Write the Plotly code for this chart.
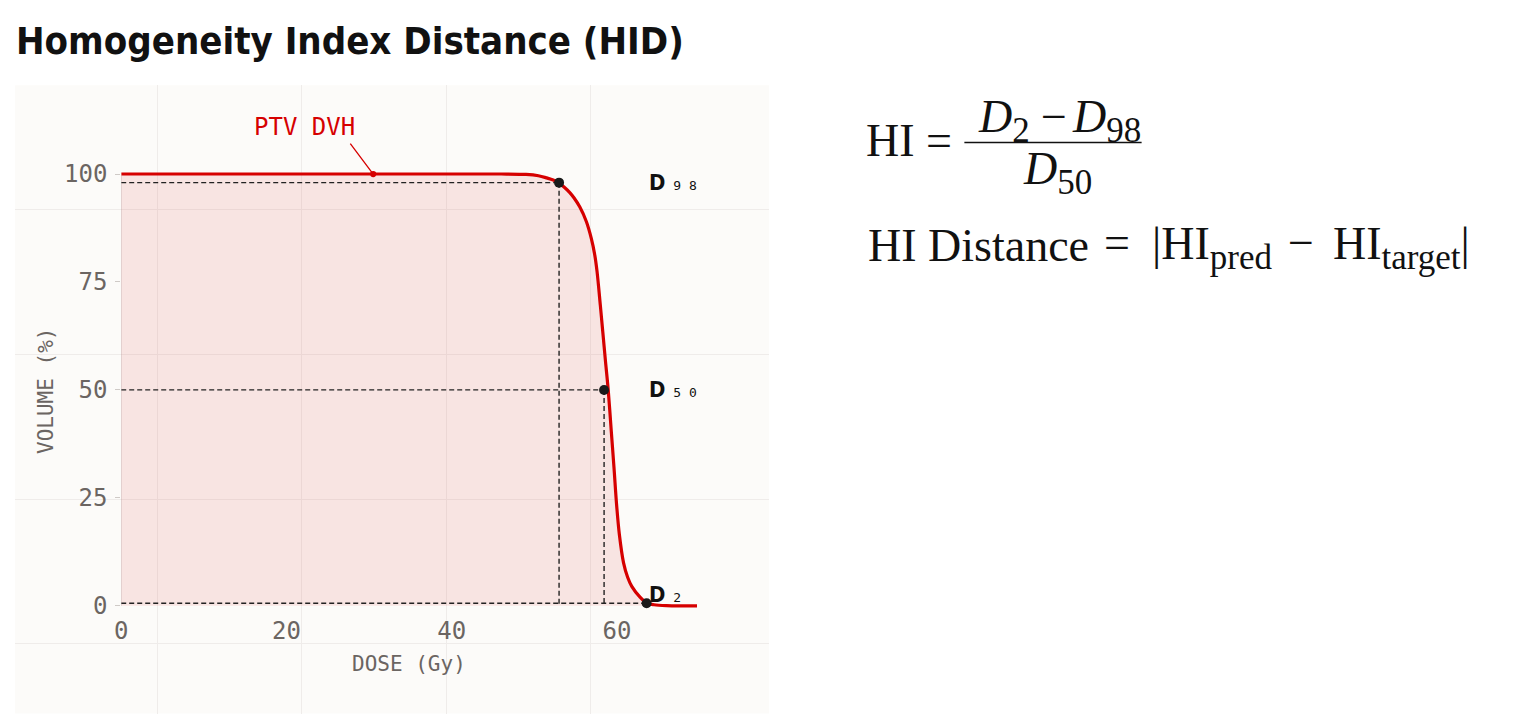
import plotly.graph_objects as go

# Page/figure geometry: the page keeps an 8px body margin and the photo of the page
# comes out slightly squeezed; positions below are given in photo pixels and mapped.
OFF = 8
SX, SY = 0.994, 0.972
W, H = 1514, 724

# ---- data ----
dose = [0, 10, 20, 30, 40, 46, 49, 50.5, 51.5, 52.3, 53.0, 53.6, 54.3, 54.8,
        55.5, 56.3, 56.9, 57.3, 57.6, 58.0, 58.3, 58.6, 58.95, 59.3, 59.65,
        59.96, 60.3, 60.8, 61.3, 61.8, 62.8, 63.6, 64.5, 66.0, 68.0, 69.7]
volume = [100, 100, 100, 100, 100, 100, 99.9, 99.6, 99.1, 98.6, 97.9, 97.0,
          95.7, 94.5, 92.4, 89.0, 85.1, 81.5, 77.4, 69.5, 63.3, 57.0, 50.0,
          41.0, 32.0, 23.5, 16.5, 10.0, 6.6, 4.5, 2.0, 0.65, 0.25, 0.05, 0, 0]

d_names = ["98", "50", "2"]
d_dose = [53.0, 58.45, 63.6]
d_vol = [98, 50, 0.6]
d_label_y = [98, 50, 2.6]

x_ticks = [0, 20, 40, 60]
y_ticks = [0, 25, 50, 75, 100]

ptv_label = "PTV DVH"
ptv_point = (30.5, 100)

RED = "#d60000"
GRAY = "#6b6562"
MONO = "DejaVu Sans Mono, Liberation Mono, monospace"
SERIF = "Liberation Serif, DejaVu Serif, serif"
COND = "Liberation Sans Narrow, DejaVu Sans Condensed, Roboto Condensed, Roboto"


def px_x(p):
    return (p / SX - OFF) / W


def px_y(p):
    return 1 - (p / SY - OFF) / H


fig = go.Figure()

# grid subplot (background grid), drawn first
fig.add_trace(go.Scatter(x=[16], y=[84], mode="markers", marker=dict(opacity=0),
                         hoverinfo="skip", showlegend=False, xaxis="x", yaxis="y"))

# fill + curve
fig.add_trace(go.Scatter(x=dose, y=volume, mode="lines", fill="tozeroy",
                         fillcolor="rgba(214,30,30,0.10)",
                         line=dict(color=RED, width=3.2, shape="spline", smoothing=0.9),
                         hoverinfo="skip", showlegend=False, xaxis="x2", yaxis="y2"))
# left edge of area
fig.add_trace(go.Scatter(x=[dose[0], dose[0]], y=[0, volume[0]], mode="lines",
                         line=dict(color="rgba(170,140,140,0.45)", width=1.2),
                         hoverinfo="skip", showlegend=False, xaxis="x2", yaxis="y2"))

# dashed guides
for i, (dx, dy) in enumerate(zip(d_dose, d_vol)):
    fig.add_trace(go.Scatter(x=[0, dx], y=[dy, dy], mode="lines",
                             line=dict(color="#222", width=1.4, dash="5px,3px"),
                             hoverinfo="skip", showlegend=False, xaxis="x2", yaxis="y2"))
    if i < 2:
        fig.add_trace(go.Scatter(x=[dx, dx], y=[dy, 0], mode="lines",
                                 line=dict(color="#222", width=1.4, dash="5px,3px"),
                                 hoverinfo="skip", showlegend=False, xaxis="x2", yaxis="y2"))

# points
fig.add_trace(go.Scatter(x=d_dose, y=d_vol, mode="markers",
                         marker=dict(color="#1a1a1a", size=10),
                         cliponaxis=False, hoverinfo="skip", showlegend=False,
                         xaxis="x2", yaxis="y2"))

# D labels
for name, ly in zip(d_names, d_label_y):
    sub = " ".join(list(name))
    fig.add_annotation(
        x=d_dose[2], y=ly, xref="x2", yref="y2", xanchor="left", yanchor="middle",
        text=("<span style='font-family:" + COND + "; font-size:22px'><b>D</b></span>"
              "<span style='font-size:13px'> " + sub + "</span>"),
        showarrow=False, font=dict(family=MONO, size=13, color="#111"))

# PTV DVH annotation
fig.add_annotation(x=ptv_point[0], y=ptv_point[1], xref="x2", yref="y2",
                   text="", showarrow=True, arrowhead=6, arrowsize=1.2, arrowwidth=1.3,
                   arrowcolor=RED, ax=-24, ay=-32, standoff=0)
fig.add_annotation(x=px_x(305), y=px_y(126), xref="paper", yref="paper",
                   xanchor="center", yanchor="middle",
                   text=ptv_label, showarrow=False,
                   font=dict(family=MONO, size=24, color=RED))

# axis titles
fig.add_annotation(x=px_x(409), y=px_y(662), xref="paper", yref="paper",
                   xanchor="center", yanchor="middle",
                   text="DOSE (Gy)", showarrow=False,
                   font=dict(family=MONO, size=21, color=GRAY))
fig.add_annotation(x=px_x(47), y=px_y(389), xref="paper", yref="paper",
                   xanchor="center", yanchor="middle",
                   text="VOLUME (%)", showarrow=False, textangle=-90,
                   font=dict(family=MONO, size=21, color=GRAY))

# title
fig.add_annotation(x=px_x(15), y=px_y(40), xref="paper", yref="paper",
                   xanchor="left", yanchor="middle",
                   text="<b>Homogeneity Index Distance (HID)</b>", showarrow=False,
                   font=dict(family=COND, size=38, color="#111"))


# formulas, placed piece by piece like a typeset equation
def ftxt(x, y, text, anchor="left", size=46):
    fig.add_annotation(x=px_x(x), y=px_y(y), xref="paper", yref="paper",
                       xanchor=anchor, yanchor="middle", text=text, showarrow=False,
                       font=dict(family=SERIF, size=size, color="#111"))


SUBBIG = "<sub><span style='font-size:35px'>{}</span></sub>"

ftxt(864, 139, "HI")
ftxt(939, 139, "=", "center")
ftxt(976, 119, "<i>D</i>" + SUBBIG.format("2"))
ftxt(1054, 115, "−", "center")
ftxt(1142, 119, "<i>D</i>" + SUBBIG.format("98"), "right")
ftxt(1057, 171, "<i>D</i>" + SUBBIG.format("50"), "center")
fig.add_shape(type="line", xref="paper", yref="paper",
              x0=px_x(964), x1=px_x(1141), y0=px_y(141), y1=px_y(141),
              line=dict(color="#111", width=1.4))

ftxt(866, 244, "HI Distance")
ftxt(1116, 241, "=", "center")
ftxt(1149, 246, "|HI" + SUBBIG.format("pred"))
ftxt(1300, 241, "−", "center")
ftxt(1330, 246, "HI" + SUBBIG.format("target") + "|")

# panel background
fig.add_shape(type="rect", xref="paper", yref="paper", layer="below",
              x0=px_x(16), x1=px_x(769), y0=px_y(711), y1=px_y(84),
              fillcolor="#fcfbf9", line=dict(width=0))

x0p, ppx = 122, 8.25
y0p, ppy = 603.5, 4.31
xr = [0, 71]
yr = [-1, 101]

fig.update_layout(
    width=W, height=H, margin=dict(l=0, r=0, t=0, b=0),
    paper_bgcolor="white", plot_bgcolor="rgba(0,0,0,0)",
    xaxis=dict(domain=[px_x(16), px_x(769)], range=[16, 769], tickvals=[158, 302.5, 447, 591],
               showticklabels=False, showgrid=True, gridcolor="#efecea", gridwidth=1.3,
               zeroline=False, showline=False, ticks="", fixedrange=True),
    yaxis=dict(domain=[0, px_y(84)], range=[(H + OFF) * SY, 84], tickvals=[208, 352.5, 497, 641],
               showticklabels=False, showgrid=True, gridcolor="#efecea", gridwidth=1.3,
               zeroline=False, showline=False, ticks="", fixedrange=True),
    xaxis2=dict(domain=[px_x(x0p + xr[0] * ppx), px_x(x0p + xr[1] * ppx)], range=xr,
                anchor="y2", tickvals=x_ticks, showgrid=False, zeroline=False, showline=False,
                ticks="", ticklabelstandoff=4,
                tickfont=dict(family=MONO, size=24, color=GRAY)),
    yaxis2=dict(domain=[px_y(y0p - yr[0] * ppy), px_y(y0p - yr[1] * ppy)], range=yr,
                anchor="x2", tickvals=y_ticks, showgrid=False, zeroline=False, showline=False,
                ticks="outside", ticklen=5, tickcolor="#cfcac7", tickwidth=1,
                ticklabelstandoff=3,
                tickfont=dict(family=MONO, size=24, color=GRAY)),
)

fig.write_html("out.html")
